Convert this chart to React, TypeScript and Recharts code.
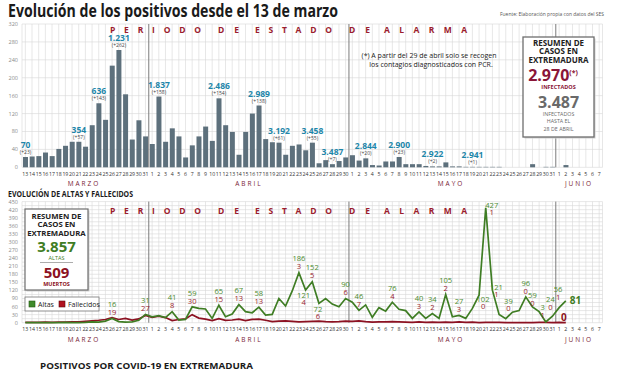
import React from 'react'
import {
  BarChart,
  Bar,
  LineChart,
  Line,
  XAxis,
  YAxis,
  CartesianGrid,
  ReferenceLine,
  LabelList,
} from 'recharts'

// categorías: días del 13 de marzo al 7 de junio
const months: [string, number, number][] = [
  ['03', 13, 31],
  ['04', 1, 30],
  ['05', 1, 31],
  ['06', 1, 7],
]
const days: { key: string; day: number }[] = []
months.forEach(([m, from, to]) => {
  for (let d = from; d <= to; d++) days.push({ key: `${m}-${d}`, day: d })
})

// nuevos positivos por día (13 mar - 2 jun)
const positivos = [
  23, 24, 25, 33, 25, 41, 48, 57, 57, 46, 94, 143, 106, 227, 262, 163, 62, 105, 69,
  52, 158, 57, 87, 69, 22, 49, 69, 91, 59, 154, 94, 79, 28, 79, 120, 138, 63, 56, 55,
  28, 48, 51, 38, 55, 9, 16, 7, 14, 22,
  27, 15, 20, 5, 4, 13, 13, 23, 7, 7, 7, 3, 2, 2, 11, 2, 2, 1, 1, 1, 1, 1, 1, 0, 0, 0,
  0, 7, 0, 1, 1,
  0, 5,
]

const altas = [
  0, 0, 0, 0, 0, 0, 1, 0, 0, 1, 3, 2, 6, 16, 4, 2, 3, 9, 31,
  22, 26, 19, 41, 10, 12, 59, 53, 51, 16, 65, 22, 32, 67, 41, 37, 58, 28, 31, 90, 62,
  118, 186, 121, 152, 72, 90, 69, 59, 90,
  76, 46, 66, 20, 56, 43, 76, 50, 45, 16, 40, 16, 34, 16, 105, 22, 27, 16, 53, 102, 427,
  121, 31, 15, 39, 45, 96, 59, 41, 3, 24,
  56, 81,
]

const fallecidos = [
  1, 1, 1, 2, 1, 2, 2, 3, 3, 5, 7, 9, 12, 19, 12, 16, 10, 14, 27,
  20, 24, 19, 8, 12, 14, 30, 17, 13, 8, 15, 9, 10, 13, 8, 12, 13, 9, 4, 6, 7, 5, 3, 4,
  5, 6, 4, 3, 4, 6,
  5, 7, 4, 2, 3, 3, 4, 3, 2, 1, 3, 1, 2, 1, 2, 1, 3, 1, 2, 0, 1, 1, 1, 0, 0, 0, 0, 0,
  1, 1, 0,
  1, 0,
]

// acumulados anotados sobre las barras
const acumIdx = [0, 8, 11, 14, 20, 29, 35, 38, 43, 46, 51, 56, 61, 67]
const acumTotal = ['70', '354', '636', '1.231', '1.837', '2.486', '2.989', '3.192', '3.458', '3.487', '2.844', '2.900', '2.922', '2.941']
const acumInc = ['+23', '+57', '+143', '+262', '+158', '+154', '+138', '+61', '+55', '+7', '+20', '+23', '+2', '+1']

// días con cifras anotadas en altas / fallecidos
const notaIdx = [13, 18, 22, 25, 29, 32, 35, 41, 42, 43, 44, 48, 50, 55, 59, 61, 63, 65, 68, 69, 70, 73, 75, 76, 78, 79, 80]

const topTicks = [0, 40, 80, 120, 160, 200, 240, 280, 320]
const bottomTicks = [
  0, 15, 30, 45, 60, 75, 90, 105, 120, 135, 150, 165, 180, 195, 210, 225, 240, 255, 270,
  285, 300, 315, 330, 345, 360, 375, 390, 405, 420, 435, 450,
]

const data = days.map((d, i) => ({
  key: d.key,
  day: d.day,
  pos: i < positivos.length ? positivos[i] : null,
  altas: i < altas.length ? altas[i] : null,
  fall: i < fallecidos.length ? fallecidos[i] : null,
}))

const FONT = '"Open Sans", "Noto Sans", sans-serif'
const TEAL = '#1d86a9'
const MAROON = '#8a1538'
const GREEN = '#3f7d24'
const RED = '#8c1222'
const GRID = '#d6d6d6'
const DIV = '#7c7c7c'

const noteOffset: Record<number, [number, number, number]> = {
  42: [-2, 5, 12],
  44: [-1, 6, 13],
  68: [4, 4, 11],
  69: [6, -2, 5],
  70: [4, -3, 4],
  73: [-4, -11, -4],
  76: [0, -12, -4],
  78: [-3, -15, -7],
  79: [-2, -17, -9],
  80: [-1, -18, -10],
}

const DayTick = (p: any) => {
  const day = String(p.payload.value).split('-')[1]
  return (
    <text x={p.x} y={p.y + 8.5} textAnchor="middle" fontSize={5.2} fill="#333" fontFamily={FONT}>
      {day}
    </text>
  )
}

const makeYTick = (every: number) => (p: any) => {
  if (p.payload.value % every !== 0) return <g />
  return (
    <text x={18} y={p.y + 2} textAnchor="end" fontSize={5.5} fill="#8a8a8a" fontFamily={FONT}>
      {p.payload.value}
    </text>
  )
}

const TopLabel = (p: any) => {
  const cx = p.x + p.width / 2
  const top = p.y
  if (p.index === 81) {
    return (
      <g fontFamily={FONT}>
        <text x={cx - 2} y={top - 10} textAnchor="middle" fontSize={10.5} fontWeight={700} fill={MAROON}>
          2.970<tspan fontSize={6} dy={-4}>(*)</tspan>
        </text>
        <text x={cx} y={top - 3} textAnchor="middle" fontSize={5} fill="#444">(+5)</text>
      </g>
    )
  }
  const k = acumIdx.indexOf(p.index)
  if (k < 0) return null
  return (
    <g fontFamily={FONT}>
      <text x={cx} y={top - 9} textAnchor="middle" fontSize={8.5} fontWeight={700} fill={TEAL}>
        {acumTotal[k]}
      </text>
      <text x={cx} y={top - 3} textAnchor="middle" fontSize={5} fill="#444">
        ({acumInc[k]})
      </text>
    </g>
  )
}

const NoteLabel = (p: any) => {
  const i = p.index
  if (i === 81) {
    return (
      <g fontFamily={FONT} fontWeight={700}>
        <text x={p.x + 4} y={p.y + 3.5} fontSize={10} fill={GREEN}>{altas[i]}</text>
        <text x={p.x - 2} y={p.y + 20.5} textAnchor="middle" fontSize={10} fill={RED}>{fallecidos[i]}</text>
      </g>
    )
  }
  if (!notaIdx.includes(i)) return null
  const [dx, dg, dr] = noteOffset[i] || [0, -14, -6]
  return (
    <g fontFamily={FONT} fontSize={7.6}>
      <text x={p.x + dx} y={p.y + dg + 2.7} textAnchor="middle" fill="#4d8c30">{altas[i]}</text>
      <text x={p.x + dx} y={p.y + dr + 2.7} textAnchor="middle" fill="#9a1f30">{fallecidos[i]}</text>
    </g>
  )
}

const Periodo = ({ y }: { y: number }) => {
  const words: [string, number, number][] = [
    ['PERIODO', 110, 91],
    ['DE', 218, 21],
    ['ESTADO', 255, 77],
    ['DE', 349, 21],
    ['ALARMA', 384, 83],
  ]
  return (
    <g fontFamily={FONT} fontSize={8.5} fontWeight={700} fill="#9b1c2e">
      {words.map(([w, x, len], i) => (
        <text key={i} x={x} y={y} textLength={len} lengthAdjust="spacing">
          {w}
        </text>
      ))}
    </g>
  )
}

const Meses = ({ y }: { y: number }) => (
  <g fontFamily={FONT} fontSize={6.5} fill="#7a2438" textAnchor="middle" letterSpacing={2}>
    <text x={84} y={y}>MARZO</text>
    <text x={249} y={y}>ABRIL</text>
    <text x={451} y={y}>MAYO</text>
    <text x={579} y={y}>JUNIO</text>
  </g>
)

const dividers = ['03-31', '04-30', '05-31']

export default function App() {
  return (
    <div style={{ position: 'absolute', left: 0, top: 0, width: 624, height: 385, background: '#fff', overflow: 'hidden' }}>
      <div style={{ position: 'absolute', left: 0, top: 0 }}>
        <BarChart width={624} height={190} data={data} margin={{ top: 24, right: 21.5, left: 0, bottom: 0.7 }}>
          <CartesianGrid stroke={GRID} strokeWidth={0.6} />
          <XAxis dataKey="key" interval={0} height={22} tickLine={false} axisLine={false} tickSize={0} tickMargin={0} tick={DayTick} />
          <YAxis domain={[0, 320]} ticks={topTicks} interval={0} width={22} axisLine={false} tickLine={false} tick={makeYTick(40)} />
          {dividers.map((d) => (
            <ReferenceLine key={d} x={d} position="end" stroke={DIV} strokeWidth={1} />
          ))}
          <Bar dataKey="pos" fill="#5d707c" barSize={5} isAnimationActive={false}>
            <LabelList dataKey="pos" content={TopLabel} />
          </Bar>
        </BarChart>
      </div>

      <div style={{ position: 'absolute', left: 0, top: 190 }}>
        <LineChart width={624} height={150} data={data} margin={{ top: 11.6, right: 21.5, left: 0, bottom: 1.3 }}>
          <CartesianGrid stroke={GRID} strokeWidth={0.6} />
          <XAxis dataKey="key" scale="band" interval={0} height={16} tickLine={false} axisLine={false} tickSize={0} tickMargin={0} tick={DayTick} />
          <YAxis domain={[0, 450]} ticks={bottomTicks} interval={0} width={22} axisLine={false} tickLine={false} tick={makeYTick(30)} />
          {dividers.map((d) => (
            <ReferenceLine key={d} x={d} position="end" stroke={DIV} strokeWidth={1} />
          ))}
          <Line dataKey="fall" stroke={RED} strokeWidth={1.7} dot={false} isAnimationActive={false} />
          <Line dataKey="altas" stroke={GREEN} strokeWidth={1.7} dot={false} isAnimationActive={false}>
            <LabelList dataKey="altas" content={NoteLabel} />
          </Line>
        </LineChart>
      </div>

      <svg width={624} height={385} style={{ position: 'absolute', left: 0, top: 0, pointerEvents: 'none' }}>
        <text x={8} y={17} fontFamily={FONT} fontSize={17} fontWeight={700} fill="#1a1a1a" textLength={330} lengthAdjust="spacingAndGlyphs">
          Evolución de los positivos desde el 13 de marzo
        </text>
        <text x={500} y={15.5} fontFamily={FONT} fontSize={5.3} fill="#555" textLength={104} lengthAdjust="spacingAndGlyphs">
          Fuente: Elaboración propia con datos del SES
        </text>

        <Periodo y={32.5} />
        <Periodo y={213.5} />

        <g fontFamily={FONT} fontSize={7} fill="#222" textAnchor="middle">
          <text x={429} y={57.5}>(*) A partir del 29 de abril solo se recogen</text>
          <text x={431} y={67}>los contagios diagnosticados con PCR.</text>
        </g>

        {/* resumen superior */}
        <rect x={524.5} y={38.5} width={71} height={100} fill="#d0d0d0" />
        <rect x={523} y={37} width={71} height={100} fill="#fff" stroke="#6e6e6e" strokeWidth={1.3} />
        <g fontFamily={FONT} textAnchor="middle">
          <g fontSize={8} fontWeight={700} fill="#222">
            <text x={558.5} y={46}>RESUMEN DE</text>
            <text x={558.5} y={54}>CASOS EN</text>
            <text x={558.5} y={63}>EXTREMADURA</text>
          </g>
          <text x={553} y={80.5} fontSize={16} fontWeight={700} fill={MAROON}>
            2.970<tspan fontSize={7} dy={-6}>(*)</tspan>
          </text>
          <text x={558.5} y={89} fontSize={5.5} fontWeight={700} fill={MAROON}>INFECTADOS</text>
          <text x={558.5} y={108} fontSize={16} fontWeight={700} fill="#6a6a6a">3.487</text>
          <g fontSize={5.3} fill="#6a6a6a">
            <text x={558.5} y={116}>INFECTADOS</text>
            <text x={558.5} y={123}>HASTA EL</text>
            <text x={558.5} y={130.5}>28 DE ABRIL</text>
          </g>
        </g>

        <Meses y={185.5} />
        <text x={8} y={197} fontFamily={FONT} fontSize={8.5} fontWeight={700} fill="#1a1a1a" textLength={125} lengthAdjust="spacingAndGlyphs">
          EVOLUCIÓN DE ALTAS Y FALLECIDOS
        </text>

        {/* resumen inferior */}
        <rect x={26.5} y={210.5} width={63} height={81} fill="#d0d0d0" />
        <rect x={25} y={209} width={63} height={81} fill="#fff" stroke="#6e6e6e" strokeWidth={1.2} />
        <g fontFamily={FONT} textAnchor="middle">
          <g fontSize={7.8} fontWeight={700} fill="#222">
            <text x={56.5} y={219}>RESUMEN DE</text>
            <text x={56.5} y={227}>CASOS EN</text>
            <text x={56.5} y={236}>EXTREMADURA</text>
          </g>
          <text x={56.5} y={252} fontSize={15} fontWeight={700} fill={GREEN}>3.857</text>
          <text x={56.5} y={259.5} fontSize={5.5} fill={GREEN}>ALTAS</text>
          <line x1={40} x2={73} y1={262.5} y2={262.5} stroke="#888" strokeWidth={0.7} />
          <text x={56.5} y={278} fontSize={15} fontWeight={700} fill={RED}>509</text>
          <text x={56.5} y={286} fontSize={5.5} fontWeight={700} fill={RED}>MUERTOS</text>
        </g>

        {/* leyenda */}
        <rect x={25} y={297} width={74} height={14} fill="#fff" stroke="#777" strokeWidth={0.8} />
        <rect x={29} y={301} width={6} height={6} fill="#3f8a2a" stroke="#225511" strokeWidth={0.6} />
        <text x={38} y={306.8} fontFamily={FONT} fontSize={7} fill="#222">Altas</text>
        <rect x={59} y={301} width={6} height={6} fill="#b0101e" stroke="#5a0a10" strokeWidth={0.6} />
        <text x={68} y={306.8} fontFamily={FONT} fontSize={7} fill="#222">Fallecidos</text>

        <Meses y={341.5} />
        <text x={40} y={369} fontFamily={FONT} fontSize={9.5} fontWeight={700} fill="#1a1a1a" textLength={213} lengthAdjust="spacingAndGlyphs">
          POSITIVOS POR COVID-19 EN EXTREMADURA
        </text>
      </svg>
    </div>
  )
}
